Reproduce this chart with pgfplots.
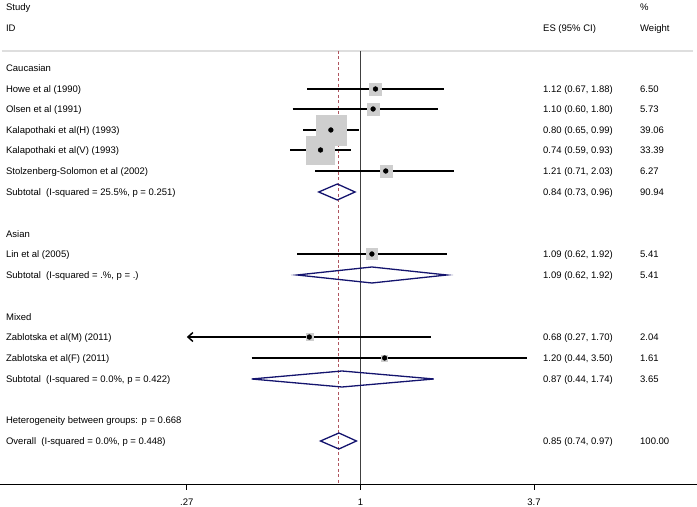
\documentclass[border=0pt]{standalone}
\usepackage{pgfplots}
\pgfplotsset{compat=1.18}
\usepackage{pgfplotstable}
\usepackage{fontspec}
\setmainfont{Liberation Sans}
\usetikzlibrary{arrows.meta}
\definecolor{boxgray}{RGB}{206,206,206}
\definecolor{dnavy}{RGB}{20,20,110}
\definecolor{dmaroon}{RGB}{175,85,95}
\definecolor{sepgray}{RGB}{222,222,222}

\pgfplotstableread{
y es lo hi w
89 1.12 0.67 1.88 6.50
109 1.10 0.60 1.80 5.73
130 0.80 0.65 0.99 39.06
150 0.74 0.59 0.93 33.39
171 1.21 0.71 2.03 6.27
254 1.09 0.62 1.92 5.41
337 0.68 0.27 1.70 2.04
358 1.20 0.44 3.50 1.61
}\studies

\begin{document}
\begin{tikzpicture}[font=\fontsize{9.5bp}{11.4bp}\selectfont]
\begin{axis}[set layers, scale only axis, width=697bp, height=507bp, hide axis, clip=false,
  xmode=log, xmin=0.0660, xmax=12.65, ymin=0, ymax=507, y dir=reverse]
% separator
\draw[sepgray, line width=1.5bp] (axis cs:0.0670,51) -- (axis cs:12.27,51);
% boxes (on background layer)
\addplot[on layer=axis background, scatter, only marks, mark=square*,
  visualization depends on={2.4*sqrt(\thisrow{w})\as\msize},
  scatter/use mapped color={draw=boxgray, fill=boxgray},
  scatter/@pre marker code/.append style={/tikz/mark size=\msize bp}]
  table[x=es, y=y]{\studies};
% reference lines
\addplot[black!75, line width=0.8bp] coordinates {(1,51) (1,484)};
\addplot[dmaroon, line width=0.9bp, dash pattern=on 3bp off 2.5bp] coordinates {(0.85,51) (0.85,484)};
% confidence intervals
\addplot[black, line width=1.6bp] coordinates {(0.67,89) (1.88,89)};
\addplot[black, line width=1.6bp] coordinates {(0.60,109) (1.80,109)};
\addplot[black, line width=1.6bp] coordinates {(0.65,130) (0.99,130)};
\addplot[black, line width=1.6bp] coordinates {(0.59,150) (0.93,150)};
\addplot[black, line width=1.6bp] coordinates {(0.71,171) (2.03,171)};
\addplot[black, line width=1.6bp] coordinates {(0.62,254) (1.92,254)};
\addplot[black, line width=1.6bp, {Straight Barb[length=5bp, width=9bp, line width=1.5bp]}-] coordinates {(0.27,337) (1.70,337)};
\addplot[black, line width=1.6bp] coordinates {(0.44,358) (3.50,358)};
% point estimates
\addplot[only marks, mark=*, mark size=2.4bp, black] table[x=es, y=y]{\studies};
% diamonds
\addplot[dnavy, line width=1.3bp, line join=miter] coordinates {(0.73,192) (0.84,184) (0.96,192) (0.84,200) (0.73,192) (0.84,184)};
\addplot[dnavy, line width=1.3bp, line join=miter] coordinates {(0.62,275) (1.09,267) (1.92,275) (1.09,283) (0.62,275) (1.09,267)};
\addplot[dnavy, line width=1.3bp, line join=miter] coordinates {(0.44,379) (0.87,371) (1.74,379) (0.87,387) (0.44,379) (0.87,371)};
\addplot[dnavy, line width=1.3bp, line join=miter] coordinates {(0.74,441) (0.85,433) (0.97,441) (0.85,449) (0.74,441) (0.85,433)};
% x axis
\draw[black, line width=0.8bp] (axis cs:0.0660,484) -- (axis cs:12.65,484);
\draw[black, line width=0.8bp] (axis cs:0.27,484) -- (axis cs:0.27,490);
\draw[black, line width=0.8bp] (axis cs:1,484) -- (axis cs:1,490);
\draw[black, line width=0.8bp] (axis cs:3.7,484) -- (axis cs:3.7,490);
\begin{scope}[every node/.style={inner sep=0pt, text height=6.8bp, text depth=0pt}]
\node at (axis cs:0.27,502) {.27};
\node at (axis cs:1,502) {1};
\node at (axis cs:3.7,502) {3.7};
\end{scope}
% left text
\begin{scope}[every node/.style={anchor=west, inner sep=0pt, text height=6.8bp, text depth=0pt}]
\node at (axis cs:0.069,7) {Study};
\node at (axis cs:0.069,28) {ID};
\node at (axis cs:0.069,68) {Caucasian};
\node at (axis cs:0.069,89) {Howe et al (1990)};
\node at (axis cs:0.069,109) {Olsen et al (1991)};
\node at (axis cs:0.069,130) {Kalapothaki et al(H) (1993)};
\node at (axis cs:0.069,150) {Kalapothaki et al(V) (1993)};
\node at (axis cs:0.069,171) {Stolzenberg-Solomon et al (2002)};
\node at (axis cs:0.069,192) {Subtotal\ \ (I-squared = 25.5\%, p = 0.251)};
\node at (axis cs:0.069,234) {Asian};
\node at (axis cs:0.069,254) {Lin et al (2005)};
\node at (axis cs:0.069,275) {Subtotal\ \ (I-squared = .\%, p = .)};
\node at (axis cs:0.069,317) {Mixed};
\node at (axis cs:0.069,337) {Zablotska et al(M) (2011)};
\node at (axis cs:0.069,358) {Zablotska et al(F) (2011)};
\node at (axis cs:0.069,379) {Subtotal\ \ (I-squared = 0.0\%, p = 0.422)};
\node at (axis cs:0.069,420) {Heterogeneity between groups: p = 0.668};
\node at (axis cs:0.069,441) {Overall\ \ (I-squared = 0.0\%, p = 0.448)};
% ES column
\node at (axis cs:3.96,28) {ES (95\% CI)};
\node at (axis cs:3.96,89) {1.12 (0.67, 1.88)};
\node at (axis cs:3.96,109) {1.10 (0.60, 1.80)};
\node at (axis cs:3.96,130) {0.80 (0.65, 0.99)};
\node at (axis cs:3.96,150) {0.74 (0.59, 0.93)};
\node at (axis cs:3.96,171) {1.21 (0.71, 2.03)};
\node at (axis cs:3.96,192) {0.84 (0.73, 0.96)};
\node at (axis cs:3.96,254) {1.09 (0.62, 1.92)};
\node at (axis cs:3.96,275) {1.09 (0.62, 1.92)};
\node at (axis cs:3.96,337) {0.68 (0.27, 1.70)};
\node at (axis cs:3.96,358) {1.20 (0.44, 3.50)};
\node at (axis cs:3.96,379) {0.87 (0.44, 1.74)};
\node at (axis cs:3.96,441) {0.85 (0.74, 0.97)};
% weight column
\node at (axis cs:8.23,7) {\%};
\node at (axis cs:8.23,28) {Weight};
\node at (axis cs:8.23,89) {6.50};
\node at (axis cs:8.23,109) {5.73};
\node at (axis cs:8.23,130) {39.06};
\node at (axis cs:8.23,150) {33.39};
\node at (axis cs:8.23,171) {6.27};
\node at (axis cs:8.23,192) {90.94};
\node at (axis cs:8.23,254) {5.41};
\node at (axis cs:8.23,275) {5.41};
\node at (axis cs:8.23,337) {2.04};
\node at (axis cs:8.23,358) {1.61};
\node at (axis cs:8.23,379) {3.65};
\node at (axis cs:8.23,441) {100.00};
\end{scope}
\end{axis}
\pgfresetboundingbox
\path[use as bounding box] (current axis.south west) rectangle (current axis.north east);
\end{tikzpicture}
\end{document}
